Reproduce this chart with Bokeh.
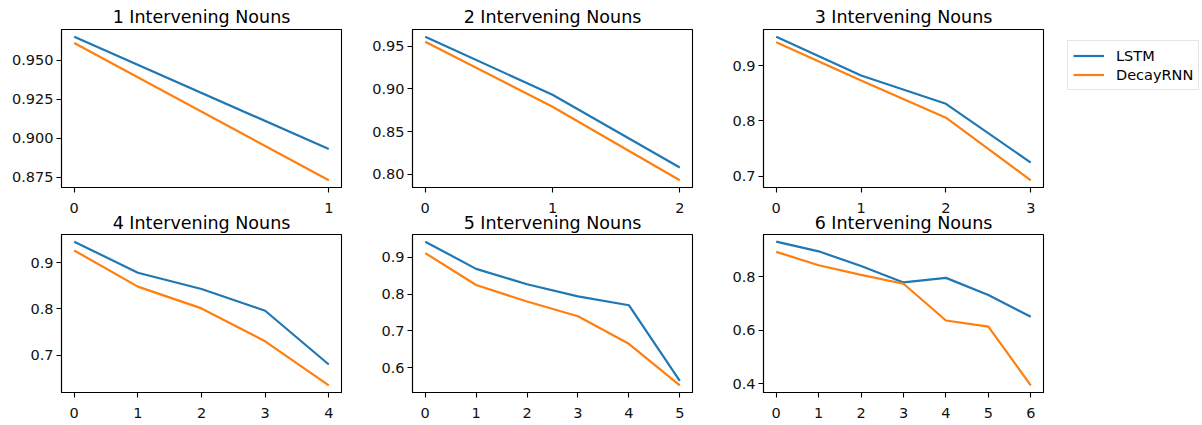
from bokeh.plotting import figure
from bokeh.models import Range1d, FixedTicker, Legend, LegendItem
from bokeh.layouts import column, row
from bokeh.embed import file_html
from bokeh.resources import INLINE

titles = ["1 Intervening Nouns", "2 Intervening Nouns", "3 Intervening Nouns",
          "4 Intervening Nouns", "5 Intervening Nouns", "6 Intervening Nouns"]

lstm_1 = [0.965, 0.893]
decay_1 = [0.961, 0.873]
lstm_2 = [0.961, 0.893, 0.808]
decay_2 = [0.955, 0.879, 0.793]
lstm_3 = [0.952, 0.882, 0.831, 0.725]
decay_3 = [0.942, 0.873, 0.806, 0.693]
lstm_4 = [0.945, 0.878, 0.843, 0.796, 0.680]
decay_4 = [0.926, 0.848, 0.801, 0.730, 0.635]
lstm_5 = [0.943, 0.869, 0.827, 0.794, 0.770, 0.564]
decay_5 = [0.912, 0.825, 0.780, 0.740, 0.665, 0.552]
lstm_6 = [0.931, 0.895, 0.840, 0.779, 0.796, 0.732, 0.651]
decay_6 = [0.893, 0.843, 0.807, 0.774, 0.637, 0.614, 0.395]

yticks_1 = [0.875, 0.900, 0.925, 0.950]
ylabels_1 = ["0.875", "0.900", "0.925", "0.950"]
yticks_2 = [0.80, 0.85, 0.90, 0.95]
ylabels_2 = ["0.80", "0.85", "0.90", "0.95"]
yticks_3 = [0.7, 0.8, 0.9]
ylabels_3 = ["0.7", "0.8", "0.9"]
yticks_4 = [0.7, 0.8, 0.9]
ylabels_4 = ["0.7", "0.8", "0.9"]
yticks_5 = [0.6, 0.7, 0.8, 0.9]
ylabels_5 = ["0.6", "0.7", "0.8", "0.9"]
yticks_6 = [0.4, 0.6, 0.8]
ylabels_6 = ["0.4", "0.6", "0.8"]

series_names = ["LSTM", "DecayRNN"]
colors = ["#1f77b4", "#ff7f0e"]

lstm_all = [lstm_1, lstm_2, lstm_3, lstm_4, lstm_5, lstm_6]
decay_all = [decay_1, decay_2, decay_3, decay_4, decay_5, decay_6]
yticks_all = [yticks_1, yticks_2, yticks_3, yticks_4, yticks_5, yticks_6]
ylabels_all = [ylabels_1, ylabels_2, ylabels_3, ylabels_4, ylabels_5, ylabels_6]

FONT = "DejaVu Sans"
TICK_SIZE = "14.5px"
TITLE_SIZE = "17.5px"

figs = []
for i in range(6):
    a = lstm_all[i]
    b = decay_all[i]
    n = len(a)
    xs = list(range(n))
    xm = 0.05 * (n - 1)
    lo = min(a + b)
    hi = max(a + b)
    ym = 0.05 * (hi - lo)
    left_border = 61 if i in (0, 3) else 55
    right_border = 149 if i == 2 else 16
    top_border = 29 if i < 3 else 10
    p = figure(frame_width=280, frame_height=158,
               x_range=Range1d(-xm, n - 1 + xm), y_range=Range1d(lo - ym, hi + ym),
               output_backend="svg", toolbar_location=None,
               min_border_left=left_border, min_border_right=right_border,
               min_border_top=top_border, min_border_bottom=10)
    p.title.text = titles[i]
    p.title.align = "center"
    p.title.text_font = FONT
    p.title.text_font_size = TITLE_SIZE
    p.title.text_font_style = "normal"
    p.title.text_color = "black"
    p.title.standoff = 5 if i < 3 else 4
    p.title.offset = 0

    p.xgrid.visible = False
    p.ygrid.visible = False
    p.outline_line_color = "black"
    p.outline_line_width = 1.1
    p.background_fill_color = "white"
    p.border_fill_color = None

    p.xaxis.ticker = FixedTicker(ticks=xs)
    p.xaxis.major_label_overrides = {x: str(x) for x in xs}
    p.yaxis.ticker = FixedTicker(ticks=yticks_all[i])
    p.yaxis.major_label_overrides = dict(zip(yticks_all[i], ylabels_all[i]))
    for ax in (p.xaxis[0], p.yaxis[0]):
        ax.axis_line_color = "black"
        ax.axis_line_width = 1.1
        ax.major_tick_line_color = "black"
        ax.major_tick_line_width = 1.1
        ax.major_tick_out = 5
        ax.major_tick_in = 0
        ax.minor_tick_line_color = None
        ax.major_label_text_font = FONT
        ax.major_label_text_font_size = TICK_SIZE
        ax.major_label_text_color = "#111111"
        ax.major_label_standoff = 3
    p.xaxis[0].major_label_standoff = 10

    r1 = p.line(xs, a, line_color=colors[0], line_width=2.2)
    r2 = p.line(xs, b, line_color=colors[1], line_width=2.2)

    if i == 2:
        legend = Legend(items=[LegendItem(label=series_names[0], renderers=[r1]),
                               LegendItem(label=series_names[1], renderers=[r2])])
        legend.location = (24, 97)
        legend.margin = 0
        legend.padding = 5
        legend.spacing = 0
        legend.glyph_width = 31
        legend.glyph_height = 19
        legend.label_height = 19
        legend.label_standoff = 12
        legend.label_text_font = FONT
        legend.label_text_font_size = TICK_SIZE
        legend.label_text_color = "black"
        legend.border_line_color = "#cccccc"
        legend.border_line_width = 1
        legend.background_fill_color = "white"
        legend.background_fill_alpha = 1.0
        p.add_layout(legend, "right")
    figs.append(p)

top_row = row(figs[0], figs[1], figs[2])
bottom_row = row(figs[3], figs[4], figs[5], margin=(-7, 0, 0, 0))
layout = column(top_row, bottom_row)
open("out.html", "w").write(file_html(layout, INLINE))
